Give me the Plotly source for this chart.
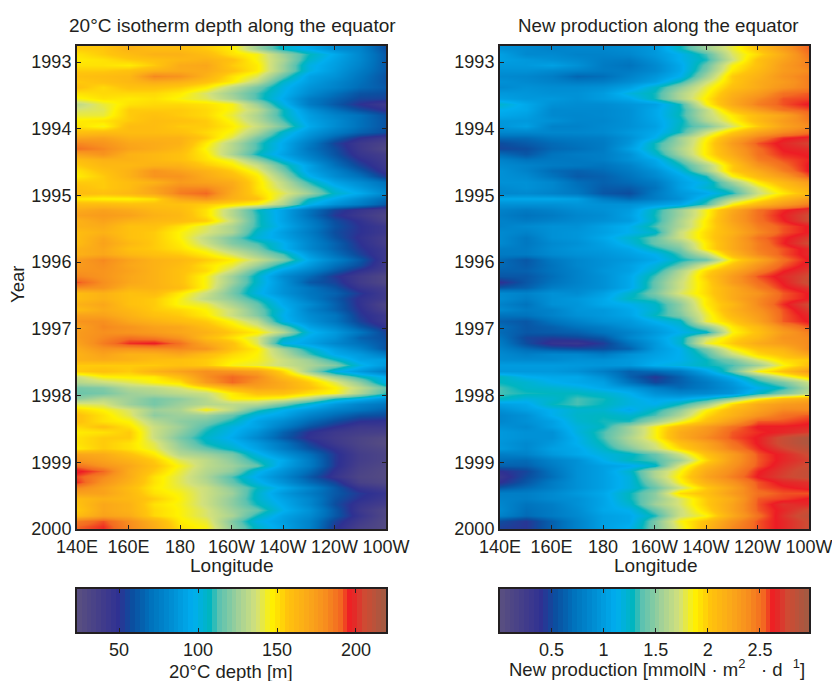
import plotly.graph_objects as go

LONGITUDES = [140, 150, 160, 170, 180, 190, 200, 210, 220, 230, 240, 250, 260]
FIRST_MONTH = 1992.795
MONTH = 1 / 12

DEPTH = [
[155,156,165,160,160,155,148,125,105,95,82,78,58],
[150,155,160,165,165,160,150,145,125,108,95,80,62],
[148,150,155,158,162,165,158,145,128,105,92,80,62],
[150,150,148,155,168,170,155,148,125,100,90,78,62],
[155,155,158,165,168,168,158,148,125,100,88,75,62],
[158,160,162,182,178,165,150,140,115,92,85,72,60],
[155,158,162,168,165,158,148,132,105,90,80,70,60],
[158,152,158,158,155,148,132,118,100,86,78,68,62],
[150,152,152,152,148,138,125,112,98,82,70,60,58],
[145,150,148,150,145,140,128,112,95,75,65,56,55],
[132,142,150,152,152,150,145,125,100,75,62,50,42],
[138,140,155,155,155,152,145,132,108,85,70,58,48],
[142,142,155,158,155,152,142,128,108,90,78,70,58],
[148,150,155,160,158,155,145,130,112,92,82,70,60],
[150,145,160,160,155,155,148,135,118,95,82,70,60],
[158,160,160,160,158,152,145,128,105,88,75,65,58],
[170,172,165,165,165,155,140,118,100,82,65,50,42],
[182,178,170,168,165,148,130,112,95,75,55,42,34],
[188,182,172,168,162,145,130,112,95,72,58,42,30],
[172,178,165,162,158,148,128,108,92,76,60,45,38],
[160,165,165,162,158,150,142,122,100,82,65,50,40],
[155,162,162,165,165,155,148,135,112,92,70,55,42],
[150,158,165,178,172,165,155,142,118,92,78,62,45],
[148,155,165,178,178,168,160,148,125,98,82,70,52],
[155,155,160,165,175,172,168,150,132,110,92,82,70],
[158,155,160,172,182,182,170,150,135,118,100,88,75],
[160,158,162,170,185,190,168,152,140,125,105,95,80],
[148,146,146,150,170,178,165,158,135,108,95,82,68],
[160,160,158,158,158,155,150,145,128,100,85,75,62],
[168,172,168,162,160,150,130,108,92,72,55,45,38],
[172,175,172,165,162,150,130,110,92,70,52,42,32],
[165,172,165,162,160,155,135,110,92,75,58,48,34],
[165,168,158,158,150,140,128,110,95,78,60,50,42],
[160,165,158,155,146,138,128,105,90,75,58,50,42],
[160,170,158,155,146,132,118,102,92,78,60,48,38],
[160,172,162,155,148,135,120,112,98,80,65,50,38],
[165,170,158,155,150,142,128,118,98,80,65,52,42],
[165,170,162,158,155,148,138,125,112,88,70,55,42],
[175,182,172,165,162,155,148,135,120,95,78,62,42],
[175,180,170,165,160,150,142,125,105,88,70,58,40],
[178,178,172,165,158,152,135,112,92,78,62,48,38],
[182,178,170,165,158,145,125,105,82,68,52,40,30],
[192,180,170,165,158,145,125,105,85,62,55,40,30],
[180,178,165,165,160,145,120,102,85,72,60,45,38],
[160,165,158,160,148,135,118,100,85,72,65,52,40],
[160,165,158,155,145,132,122,108,92,75,62,48,40],
[165,170,158,155,145,142,128,115,95,82,65,48,32],
[160,168,162,155,152,146,135,118,100,78,65,50,35],
[172,172,165,158,155,148,135,120,98,82,72,52,42],
[178,180,170,165,160,155,145,132,100,85,72,55,42],
[172,182,178,172,170,160,150,140,118,92,80,62,48],
[175,180,178,175,170,165,155,148,130,100,88,72,55],
[175,182,188,185,178,160,150,138,108,95,85,65,58],
[172,185,195,197,188,170,158,140,100,92,80,70,60],
[168,178,178,180,182,178,158,148,125,105,90,78,60],
[165,172,165,165,170,160,152,146,130,112,95,88,75],
[165,168,165,160,158,155,148,145,135,125,108,92,90],
[155,155,155,155,158,155,145,142,135,128,120,100,88],
[155,158,155,165,172,180,178,172,152,125,100,88,75],
[135,146,148,148,160,180,190,182,160,145,125,108,96],
[130,135,140,146,150,175,190,178,168,155,140,122,98],
[118,120,130,132,138,150,165,172,168,158,147,132,115],
[116,118,125,128,132,135,148,158,158,150,145,128,110],
[122,130,125,118,122,130,146,146,142,130,108,98,85],
[140,138,125,118,125,130,132,130,118,102,88,78,72],
[152,146,138,125,128,146,132,112,98,88,78,72,65],
[158,150,140,122,125,125,115,100,92,78,68,60,58],
[158,150,146,130,122,118,108,92,82,68,58,50,48],
[152,158,150,135,125,112,100,92,75,60,50,42,42],
[148,150,155,135,122,108,98,85,65,50,42,38,36],
[150,155,155,135,118,105,95,80,62,48,40,33,28],
[150,155,150,140,122,108,100,88,72,55,42,33,26],
[148,155,150,142,125,115,105,92,75,60,48,35,30],
[170,168,158,148,130,125,118,100,85,70,52,38,32],
[178,172,165,155,140,132,122,108,95,75,52,38,32],
[188,178,170,158,145,132,125,115,92,75,52,36,30],
[198,190,168,155,142,130,122,100,85,68,48,34,28],
[192,182,168,150,140,128,112,95,80,62,45,32,28],
[195,178,165,150,140,130,115,100,85,68,55,35,30],
[182,172,160,148,142,135,122,108,95,80,62,45,38],
[172,172,162,150,145,135,125,105,88,75,62,52,45],
[160,165,162,155,146,135,122,105,92,80,60,50,42],
[158,170,165,150,145,135,122,108,95,80,58,45,38],
[155,170,165,152,146,138,125,115,98,85,62,42,30],
[160,172,168,152,146,138,128,108,92,82,62,45,30],
[185,192,180,165,148,142,120,100,90,78,55,40,28],
[190,195,182,168,150,145,122,105,92,78,52,36,28],
]

NEW_PROD = [
[.93,.88,.83,.86,.86,.9,.98,1.28,1.55,1.8,2.05,2.3,2.55],
[1.03,.88,.88,.83,.83,.86,.98,1.13,1.35,1.75,1.95,2.2,2.5],
[1.03,.98,.93,.88,.8,.78,.93,1.13,1.3,1.7,2.05,2.25,2.45],
[.98,.98,1.03,.93,.78,.73,.88,1.08,1.4,1.85,2.05,2.3,2.45],
[.93,.93,.88,.83,.78,.78,.88,1.08,1.45,1.9,2.1,2.3,2.4],
[.88,.86,.8,.66,.7,.83,.96,1.13,1.55,2.0,2.15,2.35,2.45],
[.93,.88,.83,.78,.8,.9,1.03,1.3,1.7,2.0,2.2,2.3,2.45],
[.88,.93,.9,.9,.93,1.03,1.25,1.5,1.8,2.05,2.2,2.35,2.45],
[.98,.96,.93,.93,1.0,1.18,1.3,1.6,1.85,2.15,2.3,2.5,2.55],
[1.03,.98,.98,.93,1.0,1.08,1.3,1.6,1.9,2.2,2.4,2.56,2.58],
[1.23,1.08,.93,.9,.9,.96,1.03,1.3,1.85,2.2,2.45,2.56,2.64],
[1.13,1.08,.88,.88,.88,.93,1.08,1.28,1.65,2.05,2.3,2.5,2.56],
[1.08,1.03,.88,.86,.88,.93,1.08,1.3,1.65,1.9,2.1,2.25,2.5],
[.98,.98,.93,.86,.86,.93,1.06,1.25,1.6,1.85,2.1,2.3,2.45],
[.96,1.03,.83,.83,.88,.93,1.03,1.28,1.45,1.75,2.0,2.25,2.4],
[.86,.86,.86,.86,.88,.98,1.08,1.3,1.7,2.0,2.25,2.4,2.5],
[.68,.68,.76,.78,.8,.93,1.13,1.55,1.85,2.2,2.45,2.61,2.66],
[.53,.6,.68,.73,.78,.96,1.3,1.55,1.9,2.3,2.56,2.66,2.74],
[.5,.53,.66,.7,.78,1.03,1.3,1.6,1.9,2.25,2.51,2.64,2.68],
[.68,.58,.73,.78,.8,.93,1.23,1.55,1.9,2.2,2.5,2.61,2.64],
[.83,.73,.76,.76,.8,.93,1.08,1.4,1.8,2.1,2.45,2.56,2.62],
[.88,.83,.78,.76,.73,.83,1.03,1.28,1.6,2.0,2.35,2.51,2.64],
[.93,.83,.68,.63,.68,.78,.93,1.18,1.55,2.0,2.2,2.45,2.64],
[.93,.88,.73,.6,.63,.73,.88,1.08,1.3,1.85,2.1,2.3,2.56],
[.93,.93,.86,.7,.63,.68,.78,1.03,1.18,1.55,1.9,2.1,2.3],
[.88,.93,.86,.73,.6,.6,.73,1.03,1.23,1.4,1.75,2.0,2.2],
[.86,.88,.83,.76,.58,.53,.78,.98,1.08,1.3,1.7,1.9,2.1],
[1.08,1.08,1.08,1.03,.8,.68,.8,.93,1.23,1.6,1.85,2.1,2.3],
[.93,.93,.93,.96,.93,.93,1.0,1.08,1.35,1.85,2.1,2.3,2.45],
[.83,.78,.83,.9,.93,1.0,1.28,1.55,1.85,2.2,2.5,2.61,2.7],
[.8,.73,.78,.86,.9,1.03,1.3,1.55,1.85,2.25,2.51,2.64,2.77],
[.83,.78,.83,.88,.93,1.0,1.28,1.6,1.9,2.25,2.5,2.62,2.77],
[.83,.88,.93,.93,1.03,1.13,1.35,1.6,1.9,2.2,2.45,2.56,2.64],
[.88,.83,.93,.96,1.03,1.13,1.25,1.7,1.95,2.15,2.4,2.56,2.64],
[.88,.76,.93,.96,1.08,1.23,1.4,1.7,1.95,2.2,2.5,2.61,2.72],
[.88,.76,.88,.93,1.03,1.18,1.4,1.55,1.9,2.2,2.45,2.62,2.77],
[.8,.78,.9,.96,1.0,1.08,1.28,1.45,1.9,2.2,2.45,2.56,2.67],
[.78,.78,.88,.93,.96,1.03,1.13,1.35,1.65,2.1,2.4,2.56,2.67],
[.68,.58,.76,.86,.93,.98,1.08,1.28,1.4,1.9,2.2,2.5,2.64],
[.68,.6,.73,.86,.93,1.03,1.18,1.4,1.75,2.05,2.35,2.55,2.67],
[.63,.63,.73,.83,.96,1.03,1.25,1.6,1.95,2.2,2.45,2.62,2.72],
[.58,.58,.7,.83,.93,1.08,1.35,1.65,2.0,2.3,2.56,2.67,2.77],
[.4,.58,.73,.83,.93,1.08,1.4,1.7,1.95,2.3,2.51,2.64,2.8],
[.58,.63,.8,.86,.93,1.08,1.4,1.7,1.95,2.2,2.45,2.61,2.7],
[.88,.83,.93,.9,1.03,1.23,1.45,1.75,1.95,2.2,2.35,2.55,2.64],
[.9,.8,.93,.98,1.08,1.28,1.35,1.6,1.9,2.2,2.4,2.56,2.64],
[.83,.73,.93,.96,1.08,1.13,1.25,1.5,1.9,2.1,2.4,2.61,2.77],
[.88,.78,.83,.96,.98,1.08,1.23,1.5,1.85,2.15,2.35,2.56,2.72],
[.73,.73,.83,.93,.98,1.06,1.28,1.45,1.8,2.1,2.3,2.55,2.67],
[.63,.58,.73,.83,.93,.98,1.13,1.25,1.8,2.0,2.25,2.55,2.64],
[.7,.58,.63,.73,.8,.93,1.03,1.18,1.5,1.9,2.1,2.4,2.56],
[.68,.58,.6,.63,.73,.83,.98,1.13,1.25,1.85,2.05,2.3,2.45],
[.73,.5,.46,.5,.58,.86,1.03,1.23,1.7,1.95,2.1,2.35,2.4],
[.78,.53,.36,.33,.46,.73,.98,1.23,1.8,2.0,2.2,2.3,2.4],
[.83,.68,.58,.53,.53,.63,.98,1.13,1.45,1.85,2.05,2.15,2.4],
[.88,.8,.86,.86,.78,.93,1.03,1.13,1.35,1.7,1.95,2.05,2.25],
[.9,.88,.88,.93,.93,.98,1.08,1.13,1.28,1.45,1.75,1.95,2.0],
[1.0,1.0,1.0,.98,.96,.98,1.13,1.18,1.28,1.35,1.55,1.85,2.05],
[.98,.98,.98,.93,.8,.63,.68,.78,1.06,1.4,1.85,2.05,2.3],
[1.28,1.13,1.08,1.08,.93,.63,.43,.63,.88,1.13,1.45,1.75,2.0],
[1.28,1.23,1.13,1.08,1.03,.73,.5,.63,.78,.98,1.28,1.45,1.7],
[1.35,1.25,1.23,1.18,1.08,.98,.8,.68,.78,.93,1.13,1.3,1.6],
[1.35,1.3,1.28,1.28,1.23,1.13,.93,.86,.88,.96,1.25,1.45,1.65],
[1.28,1.18,1.23,1.35,1.3,1.18,1.08,1.08,1.23,1.5,1.85,2.1,2.2],
[1.03,1.08,1.28,1.35,1.28,1.18,1.13,1.3,1.55,1.95,2.2,2.3,2.35],
[.93,1.03,1.13,1.23,1.23,1.08,1.28,1.5,1.85,2.1,2.25,2.4,2.4],
[.86,.93,1.13,1.25,1.28,1.23,1.35,1.6,1.95,2.15,2.35,2.5,2.55],
[.86,.93,1.03,1.23,1.3,1.3,1.55,1.8,2.05,2.3,2.55,2.56,2.61],
[.93,.88,1.03,1.18,1.28,1.55,1.85,2.1,2.3,2.5,2.64,2.64,2.66],
[.98,.93,.93,1.18,1.35,1.55,1.85,2.2,2.35,2.55,2.61,2.66,2.72],
[.98,.93,.93,1.13,1.35,1.6,1.85,2.2,2.4,2.56,2.64,2.8,2.92],
[.96,.88,.98,1.13,1.3,1.55,1.75,2.05,2.25,2.5,2.64,2.8,2.92],
[.98,.88,1.03,1.08,1.25,1.45,1.7,1.95,2.2,2.45,2.61,2.74,2.86],
[.8,.83,.98,1.08,1.18,1.25,1.4,1.7,2.05,2.3,2.56,2.66,2.78],
[.7,.68,.83,.93,1.13,1.28,1.35,1.55,1.95,2.3,2.55,2.66,2.74],
[.63,.63,.78,.93,1.03,1.08,1.25,1.75,2.1,2.35,2.56,2.69,2.78],
[.4,.5,.73,.93,1.03,1.23,1.6,1.85,2.2,2.4,2.62,2.72,2.82],
[.33,.53,.7,.93,1.03,1.18,1.6,1.9,2.25,2.45,2.64,2.74,2.82],
[.4,.58,.78,.93,1.03,1.18,1.5,1.85,2.15,2.35,2.56,2.66,2.69],
[.58,.68,.8,.93,1.03,1.18,1.4,1.7,2.0,2.25,2.55,2.61,2.66],
[.8,.8,.88,.98,1.08,1.28,1.5,1.95,2.05,2.3,2.5,2.56,2.56],
[.83,.8,.88,.93,1.06,1.28,1.5,1.75,2.0,2.2,2.55,2.58,2.64],
[.86,.73,.8,.93,1.06,1.23,1.55,1.75,2.0,2.25,2.56,2.69,2.66],
[.88,.7,.78,.9,1.08,1.13,1.4,1.7,1.95,2.25,2.55,2.66,2.78],
[.83,.68,.78,.88,1.03,1.08,1.3,1.7,1.85,2.2,2.5,2.69,2.84],
[.53,.43,.63,.83,1.03,1.08,1.45,1.85,2.05,2.35,2.56,2.66,2.78],
[.48,.43,.63,.83,1.03,1.13,1.45,1.8,2.1,2.4,2.56,2.66,2.78],
]

LON_TICKS = [140, 160, 180, 200, 220, 240, 260]
LON_LABELS = ["140E", "160E", "180", "160W", "140W", "120W", "100W"]
YEAR_TICKS = [1993, 1994, 1995, 1996, 1997, 1998, 1999, 2000]
DEPTH_RANGE = [23.4, 219]
NP_RANGE = [0.007, 2.97]
DEPTH_TICKS = [50, 100, 150, 200]
NP_TICKS = [0.5, 1, 1.5, 2, 2.5]
NP_TICK_LABELS = ["0.5", "1", "1.5", "2", "2.5"]
LEVELS = 64

COLORS = [
    [0.00, "#5a5080"], [0.09, "#3f3a8c"], [0.135, "#2e3192"], [0.18, "#0b4fa0"],
    [0.24, "#0072bc"], [0.31, "#0090d5"], [0.376, "#00aeef"], [0.43, "#00b5c0"],
    [0.46, "#5cc2b0"], [0.52, "#9fd09a"], [0.58, "#d3e17b"], [0.63, "#fff200"],
    [0.68, "#ffc40c"], [0.74, "#fbab18"], [0.80, "#f7901e"], [0.85, "#f36b21"],
    [0.885, "#ed1c24"], [0.93, "#cf4a33"], [1.00, "#a15b43"],
]

W, H = 832, 681
INK = "#231f20"
FONT = "Liberation Sans"


def dom_x(a, b):
    return [a / W, b / W]


def dom_y(top, bottom):
    return [1 - bottom / H, 1 - top / H]


fig = go.Figure()
for name, table, rng in (("", DEPTH, DEPTH_RANGE), ("2", NEW_PROD, NP_RANGE)):
    fig.add_trace(go.Heatmap(
        z=table, x=LONGITUDES, y0=FIRST_MONTH, dy=MONTH,
        colorscale=COLORS, zmin=rng[0], zmax=rng[1], showscale=False,
        zsmooth="best", xaxis="x" + name, yaxis="y" + name,
    ))

for name, rng in (("3", DEPTH_RANGE), ("4", NP_RANGE)):
    step = (rng[1] - rng[0]) / LEVELS
    fig.add_trace(go.Heatmap(
        z=[[i for i in range(LEVELS)]], x0=rng[0] + step / 2, dx=step, y=[0],
        colorscale=COLORS, zmin=-0.5, zmax=LEVELS - 0.5, showscale=False,
        xaxis="x" + name, yaxis="y" + name,
    ))

common = dict(
    showline=True, linecolor=INK, linewidth=2, mirror="ticks", ticks="inside",
    ticklen=4, tickwidth=1, tickcolor=INK, showgrid=False, zeroline=False,
    automargin=False, tickangle=0, ticklabeloverflow="allow",
    tickfont=dict(family=FONT, size=18, color=INK),
)
PANELS = ((77, 386), (500, 809))
lay = dict(
    width=W, height=H, autosize=False, margin=dict(l=0, r=0, t=0, b=0),
    paper_bgcolor="white", plot_bgcolor="white", showlegend=False,
    font=dict(family=FONT, color=INK),
)
for i, (a, b) in enumerate(PANELS):
    s = "" if i == 0 else "2"
    lay["xaxis" + s] = dict(common, domain=dom_x(a, b), anchor="y" + s,
                            range=[140, 260], tickvals=LON_TICKS, ticktext=LON_LABELS)
    lay["yaxis" + s] = dict(common, domain=dom_y(46, 529), anchor="x" + s,
                            range=[2000, 1992.76], tickvals=YEAR_TICKS,
                            tickformat="d")

lay["xaxis3"] = dict(common, domain=dom_x(*PANELS[0]), anchor="y3", range=DEPTH_RANGE,
                     tickvals=DEPTH_TICKS)
lay["yaxis3"] = dict(common, domain=dom_y(589, 632), anchor="x3", range=[-0.5, 0.5],
                     ticks="", showticklabels=False, mirror=True)
lay["xaxis4"] = dict(common, domain=dom_x(*PANELS[1]), anchor="y4", range=NP_RANGE,
                     tickvals=NP_TICKS, ticktext=NP_TICK_LABELS)
lay["yaxis4"] = dict(common, domain=dom_y(589, 632), anchor="x4", range=[-0.5, 0.5],
                     ticks="", showticklabels=False, mirror=True)
fig.update_layout(**lay)


def note(text, x, y, size=18.5, angle=0):
    fig.add_annotation(text=text, x=x / W, y=1 - y / H, xref="paper", yref="paper",
                       showarrow=False, textangle=angle, xanchor="center", yanchor="middle",
                       font=dict(family=FONT, size=size, color=INK))


note("20°C isotherm depth along the equator", 232, 26, 19)
note("New production along the equator", 658, 26, 18.7)
note("Longitude", 231, 565, 19)
note("Longitude", 655, 565, 19)
note("Year", 18, 285, 18.5, -90)
note("20°C depth [m]", 231, 671)
note("New production [mmolN · m<sup>2</sup>   · d  <sup>1</sup>]", 657, 668)

fig.write_html("out.html", config={"displayModeBar": False},
               post_script="document.body.style.margin='0';")
